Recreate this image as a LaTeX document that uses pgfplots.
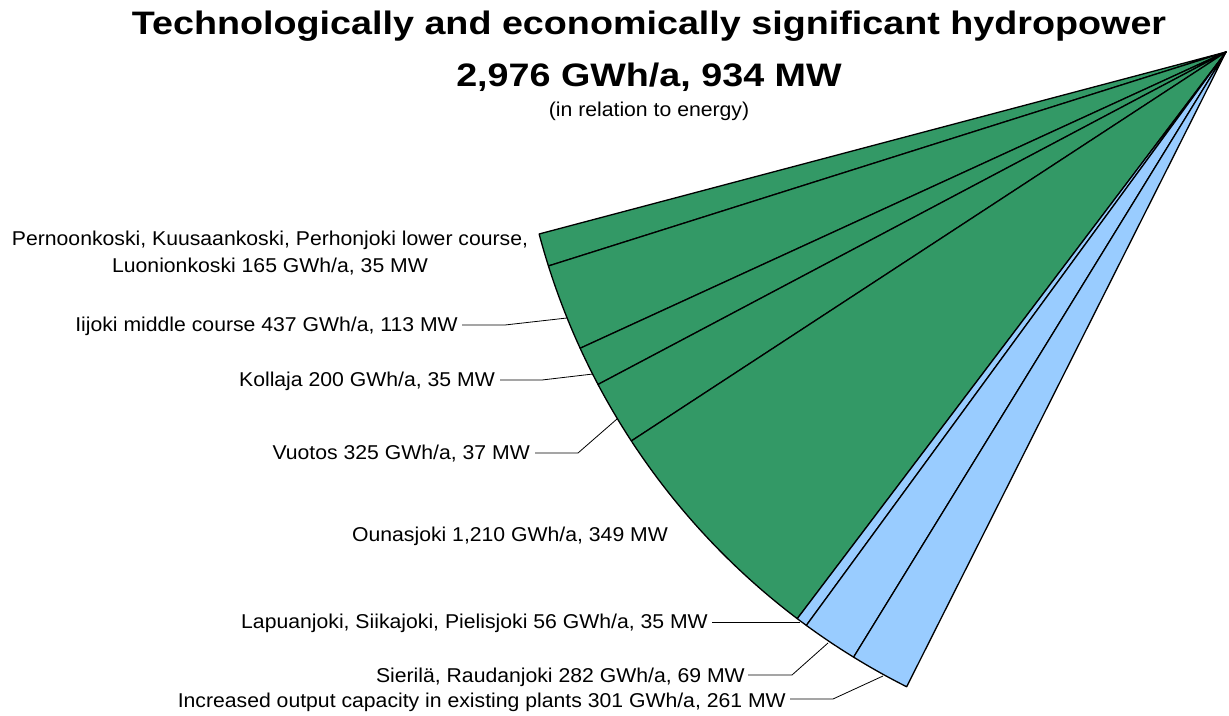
\documentclass[border=0pt]{standalone}
\usepackage{fontspec}
\setmainfont{Liberation Sans}
\usepackage{graphicx}
\usepackage{pgfplots}
\pgfplotsset{compat=1.18}
\definecolor{sgreen}{RGB}{51,153,102}
\definecolor{lblue}{RGB}{153,204,255}

\newcommand{\lab}[1]{\fontsize{20}{24}\selectfont\scalebox{1.06}[1]{#1}}
\newcommand{\ttl}[1]{\fontsize{32.5}{38}\selectfont\bfseries\scalebox{1.16}[1]{#1}}

% pie geometry (pixel-like units, 1 unit = 1pt)
\def\cx{1226}\def\cy{663}
\def\rad{710.6pt}
\def\startang{194.84}
\pgfmathsetmacro\degper{48.46/2976}

% #1 cumulative GWh before slice, #2 slice GWh, #3 colour
\newcommand{\slice}[3]{%
 \pgfmathsetmacro\sa{\startang+#1*\degper}%
 \pgfmathsetmacro\sb{\startang+(#1+#2)*\degper}%
 \edef\tmp{\noexpand\addplot[draw=black,fill=#3,line width=1.3pt,line join=round]
   coordinates {(\cx,\cy)} -- ([shift={(\sa:\rad)}]axis cs:\cx,\cy)
   arc[start angle=\sa,end angle=\sb,radius=\rad] -- cycle;}%
 \tmp}

\begin{document}
\begin{tikzpicture}
\begin{axis}[
  hide axis, scale only axis,
  width=1229pt, height=715pt,
  xmin=0, xmax=1229, ymin=0, ymax=715,
  enlargelimits=false, clip=false,
  disabledatascaling,
]
% GWh/a values: 165, 437, 200, 325, 1210, 56, 282, 301
\slice{0}{165}{sgreen}
\slice{165}{437}{sgreen}
\slice{602}{200}{sgreen}
\slice{802}{325}{sgreen}
\slice{1127}{1210}{sgreen}
\slice{2337}{56}{lblue}
\slice{2393}{282}{lblue}
\slice{2675}{301}{lblue}

% titles
\node[anchor=base, inner sep=0] at (axis cs:649,680) {\ttl{Technologically and economically significant hydropower}};
\node[anchor=base, inner sep=0] at (axis cs:649,628) {\ttl{2,976 GWh/a, 934 MW}};
\node[anchor=base, inner sep=0] at (axis cs:649,598) {\lab{(in relation to energy)}};

% labels
\node[anchor=base, inner sep=0] at (axis cs:270,469) {\lab{Pernoonkoski, Kuusaankoski, Perhonjoki lower course,}};
\node[anchor=base, inner sep=0] at (axis cs:270,442) {\lab{Luonionkoski 165 GWh/a, 35 MW}};
\node[anchor=base east, inner sep=0] at (axis cs:458,383) {\lab{Iijoki middle course 437 GWh/a, 113 MW}};
\node[anchor=base east, inner sep=0] at (axis cs:495,328) {\lab{Kollaja 200 GWh/a, 35 MW}};
\node[anchor=base east, inner sep=0] at (axis cs:530,255) {\lab{Vuotos 325 GWh/a, 37 MW}};
\node[anchor=base, inner sep=0] at (axis cs:510,173) {\lab{Ounasjoki 1,210 GWh/a, 349 MW}};
\node[anchor=base east, inner sep=0] at (axis cs:708,86) {\lab{Lapuanjoki, Siikajoki, Pielisjoki 56 GWh/a, 35 MW}};
\node[anchor=base east, inner sep=0] at (axis cs:745,33) {\lab{Sierilä, Raudanjoki 282 GWh/a, 69 MW}};
\node[anchor=base east, inner sep=0] at (axis cs:786,8) {\lab{Increased output capacity in existing plants 301 GWh/a, 261 MW}};

% leader lines
\draw[line width=0.8pt] (axis cs:462,390) -- (axis cs:505,390) -- (axis cs:567,397);
\draw[line width=0.8pt] (axis cs:500,335) -- (axis cs:542,335) -- (axis cs:593,341);
\draw[line width=0.8pt] (axis cs:535,262) -- (axis cs:578,262) -- (axis cs:617,296);
\draw[line width=0.8pt] (axis cs:712,93) -- (axis cs:800,93);
\draw[line width=0.8pt] (axis cs:748,40) -- (axis cs:792,40) -- (axis cs:828,72);
\draw[line width=0.8pt] (axis cs:790,16) -- (axis cs:833,16) -- (axis cs:883,39);
\end{axis}
\pgfresetboundingbox
\path (current axis.south west) rectangle (current axis.north east);
\end{tikzpicture}
\end{document}
